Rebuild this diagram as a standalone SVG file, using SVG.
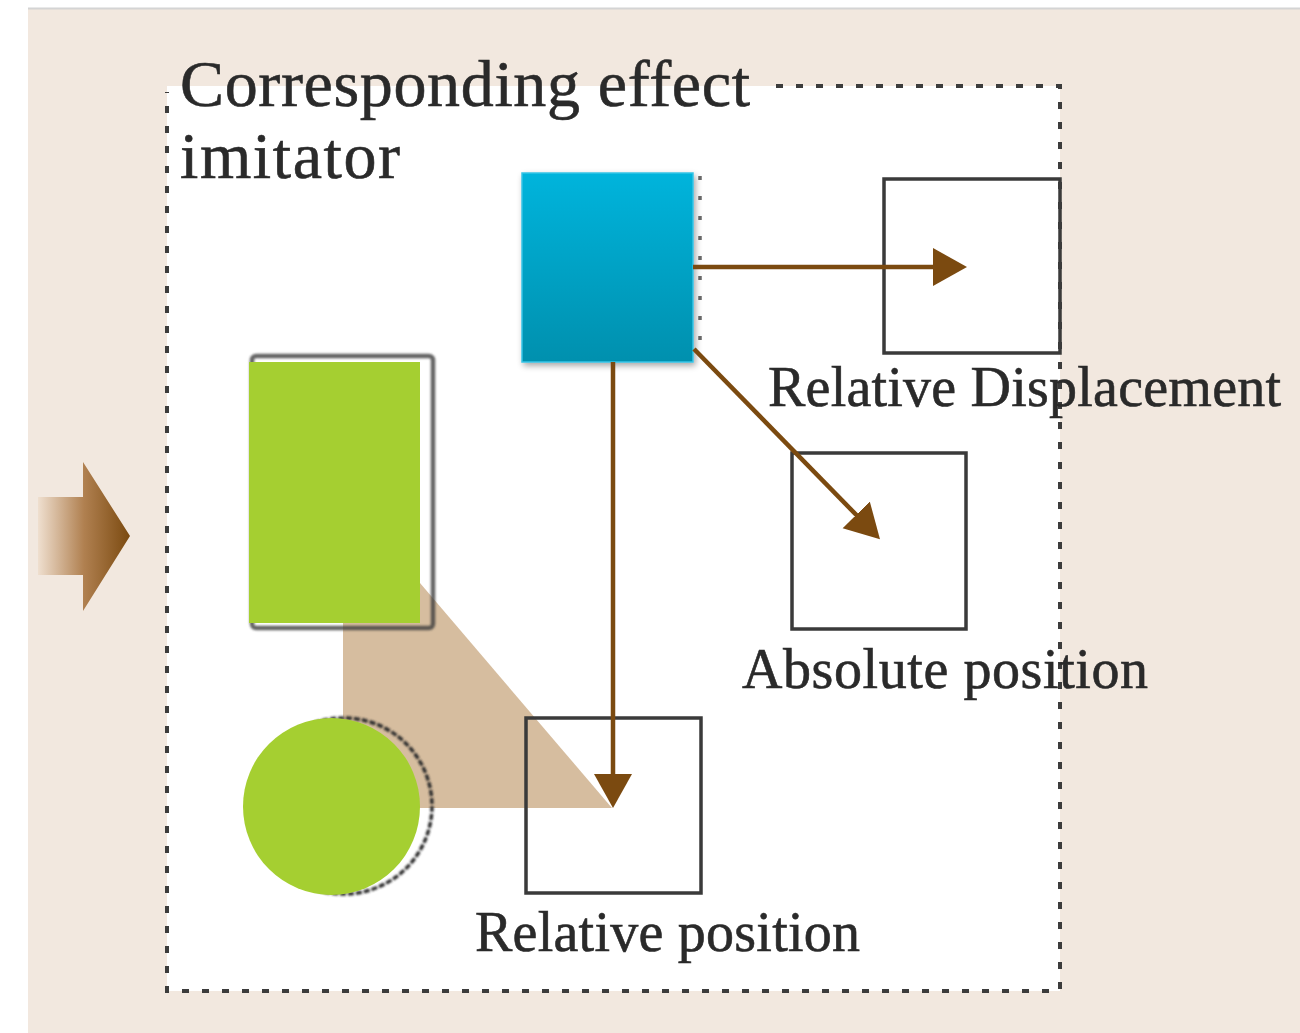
<svg xmlns="http://www.w3.org/2000/svg" width="1300" height="1033" viewBox="0 0 1300 1033">
  <defs>
    <style>
      .lbl { font-family: "Liberation Serif", "Times New Roman", serif; fill: #2a2a2a; stroke: #2a2a2a; stroke-width: 0.6; }
      .title { font-size: 66px; }
      .cap { font-size: 56px; }
      .target { fill: none; stroke: #3a3a3a; stroke-width: 3.5; }
      .move { fill: none; stroke: #7b4a10; stroke-width: 4.5; marker-end: url(#head); }
      .frame { fill: none; stroke: #3c3c3c; stroke-width: 4; stroke-dasharray: 7 13; }
    </style>
    <marker id="head" markerUnits="userSpaceOnUse" markerWidth="36" markerHeight="40" refX="24" refY="19" orient="auto" viewBox="0 0 36 40">
      <path d="M0,0 L34,19 L0,38 z" fill="#7b4a10"/>
    </marker>
    <linearGradient id="cyanFill" x1="0" y1="0" x2="0" y2="1">
      <stop offset="0" stop-color="#00b4dc"/>
      <stop offset="1" stop-color="#0090ae"/>
    </linearGradient>
    <linearGradient id="inArrow" x1="38" y1="0" x2="130" y2="0" gradientUnits="userSpaceOnUse">
      <stop offset="0" stop-color="#efdfcf"/>
      <stop offset="0.5" stop-color="#b08050"/>
      <stop offset="1" stop-color="#7b4a10"/>
    </linearGradient>
    <filter id="soft" x="-10%" y="-10%" width="120%" height="120%">
      <feGaussianBlur stdDeviation="1.2"/>
    </filter>
    <filter id="drop" x="-10%" y="-10%" width="125%" height="125%">
      <feGaussianBlur in="SourceAlpha" stdDeviation="3"/>
      <feOffset dx="2" dy="3"/>
      <feComponentTransfer><feFuncA type="linear" slope="0.35"/></feComponentTransfer>
      <feMerge><feMergeNode/><feMergeNode in="SourceGraphic"/></feMerge>
    </filter>
  </defs>

  <!-- page -->
  <rect x="0" y="0" width="1300" height="1033" fill="#ffffff"/>
  <rect x="28" y="9" width="1272" height="1024" fill="#f2e8df"/>
  <line x1="28" y1="8.5" x2="1300" y2="8.5" stroke="#d4d4d4" stroke-width="2"/>

  <!-- incoming block arrow -->
  <g id="input-arrow">
    <path d="M38,497 H83 V462 L130,536 L83,611 V575 H38 z" fill="url(#inArrow)"/>
  </g>

  <!-- imitator frame -->
  <g id="imitator">
    <rect x="167" y="86" width="893" height="905" fill="#ffffff"/>
    <path class="frame" d="M776,86 H1060 V991 H167 V92"/>
    <text class="lbl title" x="180" y="106" textLength="570" lengthAdjust="spacing">Corresponding effect</text>
    <text class="lbl title" x="180" y="178" textLength="220" lengthAdjust="spacing">imitator</text>
  </g>

  <!-- shaded projection between rectangle and circle -->
  <g id="projection">
    <polygon points="343,583 420,583 612,808 343,808" fill="#d6bd9f"/>
  </g>

  <!-- green rectangle with its outline -->
  <g id="green-rect">
    <rect x="252" y="356" width="181" height="272" rx="4" fill="none" stroke="#3e3e3e" stroke-opacity="0.8" stroke-width="4.5" filter="url(#soft)"/>
    <rect x="249" y="362" width="171" height="261" fill="#a5cf31"/>
  </g>

  <!-- green circle with its outline -->
  <g id="green-circle">
    <circle cx="344" cy="806" r="88" fill="none" stroke="#2e2e2e" stroke-width="3.5" stroke-dasharray="6 2" filter="url(#soft)"/>
    <circle cx="331.5" cy="806.5" r="88.5" fill="#a5cf31"/>
  </g>

  <!-- cyan source square -->
  <g id="cyan-square">
    <line x1="700" y1="176" x2="700" y2="346" stroke="#6a6a6a" stroke-width="3.5" stroke-dasharray="4 16"/>
    <rect x="522" y="173" width="171" height="189" fill="url(#cyanFill)" stroke="#34c4e6" stroke-width="1.5" filter="url(#drop)"/>
  </g>

  <!-- target squares -->
  <g id="relative-displacement">
    <rect class="target" x="884" y="179" width="176" height="174"/>
    <text class="lbl cap" x="768" y="406" textLength="513" lengthAdjust="spacing">Relative Displacement</text>
  </g>
  <g id="absolute-position">
    <rect class="target" x="792" y="453" width="174" height="176"/>
    <text class="lbl cap" x="742" y="688" textLength="406" lengthAdjust="spacing">Absolute position</text>
  </g>
  <g id="relative-position">
    <rect class="target" x="526" y="718" width="175" height="175"/>
    <text class="lbl cap" x="475" y="951" textLength="385" lengthAdjust="spacing">Relative position</text>
  </g>

  <!-- connectors -->
  <g id="connectors">
    <line class="move" x1="693" y1="267" x2="957" y2="267"/>
    <line class="move" x1="694" y1="349" x2="873" y2="532"/>
    <line class="move" x1="613" y1="362" x2="613" y2="798"/>
  </g>
</svg>
